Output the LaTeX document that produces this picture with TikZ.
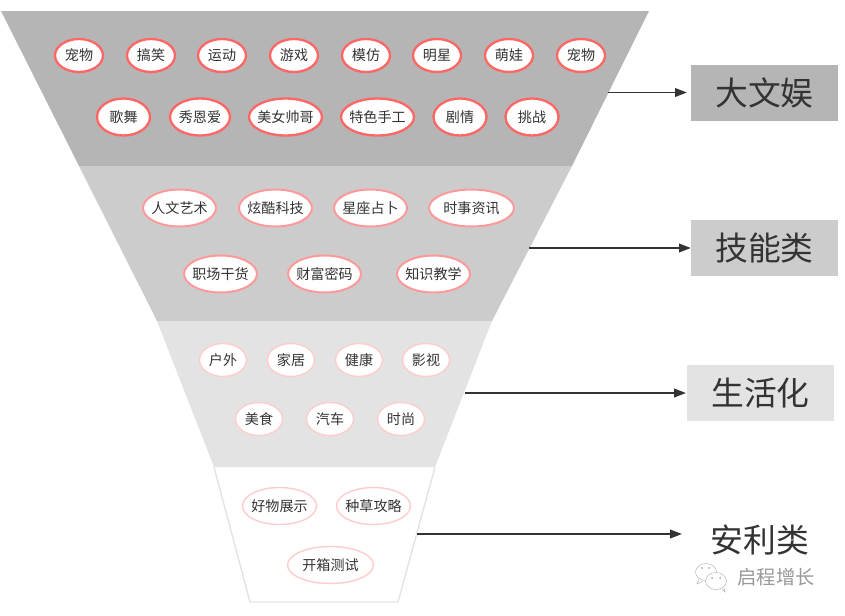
\documentclass[tikz,border=0pt]{standalone}
\usepackage{fontspec}
\setmainfont{Noto Sans CJK SC}
\usetikzlibrary{arrows.meta,shapes.geometric}
\definecolor{bandA}{HTML}{B5B5B5}
\definecolor{bandB}{HTML}{CCCCCC}
\definecolor{bandC}{HTML}{E3E3E3}
\definecolor{inkA}{HTML}{333333}
\definecolor{ringA}{HTML}{FF6666}
\definecolor{ringB}{HTML}{FF9999}
\definecolor{ringC}{HTML}{FFCCCC}
\def\px{0.03cm}
\tikzset{
	bubble/.style={ellipse, fill=white, text=inkA, inner sep=0pt, font=\fontsize{12}{12}\selectfont},
	ringhot/.style={bubble, draw=ringA, line width=2pt},
	ringmid/.style={bubble, draw=ringB, line width=1.7pt},
	ringpale/.style={bubble, draw=ringC, line width=1.2pt},
	tag/.style={minimum width=147*\px, minimum height=56*\px, inner sep=0pt, text=inkA, font=\fontsize{28}{29}\selectfont},
	flow/.style={draw=inkA, line width=0.9pt, -{Triangle[length=10pt,width=7.5pt]}},
	markline/.style={black!30, line width=0.4pt},
}
\def\bub[#1](#2)(#3,#4)(#5:#6)#7{\node[#1, minimum width=#5*\px, minimum height=#6*\px] (#2) at (#3,#4) {\makebox[0pt]{\raisebox{-0.6pt}{#7}}};}

\begin{document}
\begin{tikzpicture}[x=\px, y=-\px]
			%%%%% START %%%%%
			\useasboundingbox (0, 0) rectangle (845, 615);
			
			\fill[bandA] (1, 11) -- (649, 11) -- (572, 166) -- (79, 166) -- cycle;
			\fill[bandB] (79, 166) -- (572, 166) -- (492, 321) -- (157, 321) -- cycle;
			\fill[bandC] (157, 321) -- (492, 321) -- (435, 467) -- (214, 467) -- cycle;
			\draw[bandC, line width=1.2pt] (214, 467) -- (250, 602) -- (398, 602) -- (435, 467);
			
			\bub[ringhot](pet)(79, 55.5)(48:33){宠物}
			\bub[ringhot](fun)(151, 55.5)(48:33){搞笑}
			\bub[ringhot](sport)(222, 55.5)(48:33){运动}
			\bub[ringhot](game)(294, 55.5)(48:33){游戏}
			\bub[ringhot](mimic)(366, 55.5)(48:33){模仿}
			\bub[ringhot](star)(437, 55.5)(48:33){明星}
			\bub[ringhot](baby)(509, 55.5)(48:33){萌娃}
			\bub[ringhot](petb)(581, 55.5)(48:33){宠物}
			
			\bub[ringhot](dance)(123.5, 117)(53:37){歌舞}
			\bub[ringhot](love)(200, 117)(60:37){秀恩爱}
			\bub[ringhot](looks)(285.5, 117)(73:37){美女帅哥}
			\bub[ringhot](craft)(377.5, 117)(73:37){特色手工}
			\bub[ringhot](drama)(460, 117)(53:37){剧情}
			\bub[ringhot](dare)(532, 117)(53:37){挑战}
			
			\bub[ringmid](arts)(179.5, 208)(73:37){人文艺术}
			\bub[ringmid](tech)(275.5, 208)(73:37){炫酷科技}
			\bub[ringmid](astro)(370.5, 208)(73:37){星座占卜}
			\bub[ringmid](news)(471.5, 208)(85:37){时事资讯}
			\bub[ringmid](work)(220.5, 274)(73:37){职场干货}
			\bub[ringmid](money)(324.5, 274)(73:37){财富密码}
			\bub[ringmid](learn)(433.5, 274)(73:37){知识教学}
			
			\bub[ringpale](outdoor)(223, 360)(47:33){户外}
			\bub[ringpale](home)(291, 360)(47:33){家居}
			\bub[ringpale](health)(359, 360)(47:33){健康}
			\bub[ringpale](film)(426, 360)(47:33){影视}
			\bub[ringpale](food)(259, 419)(47:33){美食}
			\bub[ringpale](car)(330, 419)(47:33){汽车}
			\bub[ringpale](style)(401, 419)(47:33){时尚}
			
			\bub[ringpale](goods)(279.5, 506)(74:37){好物展示}
			\bub[ringpale](seed)(373.5, 506)(74:37){种草攻略}
			\bub[ringpale](unbox)(330.5, 565)(86:37){开箱测试}
			
			\node[tag, fill=bandA] (big) at (764.5, 92.5) {大文娱};
			\node[tag, fill=bandB] (skill) at (764.5, 248) {技能类};
			\node[tag, fill=bandC] (life) at (760.5, 393) {生活化};
			\node[tag] (gift) at (760.5, 534) {};
			\node[text=inkA, inner sep=0pt, font=\fontsize{28}{29}\selectfont] (giftname) at (760, 540) {安利类};
			
			\coordinate (bigout) at (608, 92.5);
			\coordinate (skillout) at (529, 248);
			\coordinate (lifeout) at (465, 393);
			\coordinate (giftout) at (417, 534);
			
			\draw[flow, shorten >=3.4pt] (bigout) -- (big);
			\draw[flow] (skillout) -- (skill);
			\draw[flow, shorten >=0.8pt] (lifeout) -- (life);
			\draw[flow, shorten >=4.2pt] (giftout) -- (gift);
			
			% watermark
			\draw[markline] (706, 572) ellipse (10.5 and 8.5);
			\draw[markline, fill=white] (716, 581) ellipse (10.5 and 8.5);
			\draw[markline] (699, 579) -- (697, 584) -- (703, 581);
			\draw[markline] (722, 589) -- (725, 592) -- (724, 588);
			\fill[black!35] (702, 568) circle (1) (709, 568) circle (1) (712, 578) circle (1) (720, 578) circle (1);
			\node[text=black!40, inner sep=0pt, font=\fontsize{16.5}{17}\selectfont] (mark) at (776, 577) {启程增长};
			
			%%%%% END %%%%%
\end{tikzpicture}
\end{document}
